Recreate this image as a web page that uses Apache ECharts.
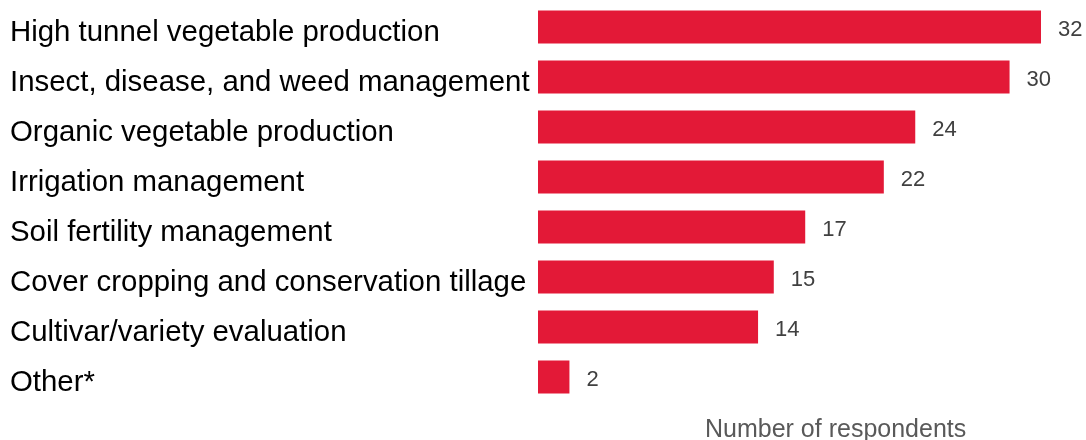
<!DOCTYPE html>
<html>
<head>
<meta charset="utf-8">
<script src="https://cdn.jsdelivr.net/npm/echarts@6/dist/echarts.min.js"></script>
<style>
  html, body { margin: 0; padding: 0; background: #fff; }
  #chart { width: 1086px; height: 440px; }
</style>
</head>
<body>
<div id="chart"></div>
<script>
const topics = [
    'High tunnel vegetable production',
    'Insect, disease, and weed management',
    'Organic vegetable production',
    'Irrigation management',
    'Soil fertility management',
    'Cover cropping and conservation tillage',
    'Cultivar/variety evaluation',
    'Other*'
];
const respondents = [32, 30, 24, 22, 17, 15, 14, 2];
const axisTitle = 'Number of respondents';

let chart = echarts.init(document.getElementById('chart'));

// second grid only carries the category labels, nudged down a few px
chart.setOption({
    animation: false,
    textStyle: { fontFamily: 'Liberation Sans, Arial, sans-serif' },
    title: {
        text: axisTitle,
        left: 700,
        top: 413,
        textStyle: { fontSize: 25, fontWeight: 'normal', color: '#595959' }
    },
    grid: [
        { left: 538, right: 45, top: 2, height: 400 },
        { left: 538, right: 45, top: 7.5, height: 400 }
    ],
    xAxis: [
        { type: 'value', gridIndex: 0, min: 0, max: 32, show: false },
        { type: 'value', gridIndex: 1, min: 0, max: 32, show: false }
    ],
    yAxis: [
        {
            type: 'category',
            gridIndex: 0,
            inverse: true,
            data: topics,
            axisLine: { show: false },
            axisTick: { show: false },
            axisLabel: { show: false }
        },
        {
            type: 'category',
            gridIndex: 1,
            inverse: true,
            data: topics,
            axisLine: { show: false },
            axisTick: { show: false },
            axisLabel: {
                align: 'left',
                margin: 528,
                fontSize: 29.4,
                color: '#000'
            }
        }
    ],
    series: [{
        type: 'bar',
        xAxisIndex: 0,
        yAxisIndex: 0,
        data: respondents,
        barWidth: 33,
        itemStyle: { color: '#E31937' },
        label: {
            show: true,
            position: 'right',
            distance: 17,
            offset: [0, 3],
            fontSize: 22,
            color: '#404040'
        }
    }]
});
</script>
</body>
</html>
